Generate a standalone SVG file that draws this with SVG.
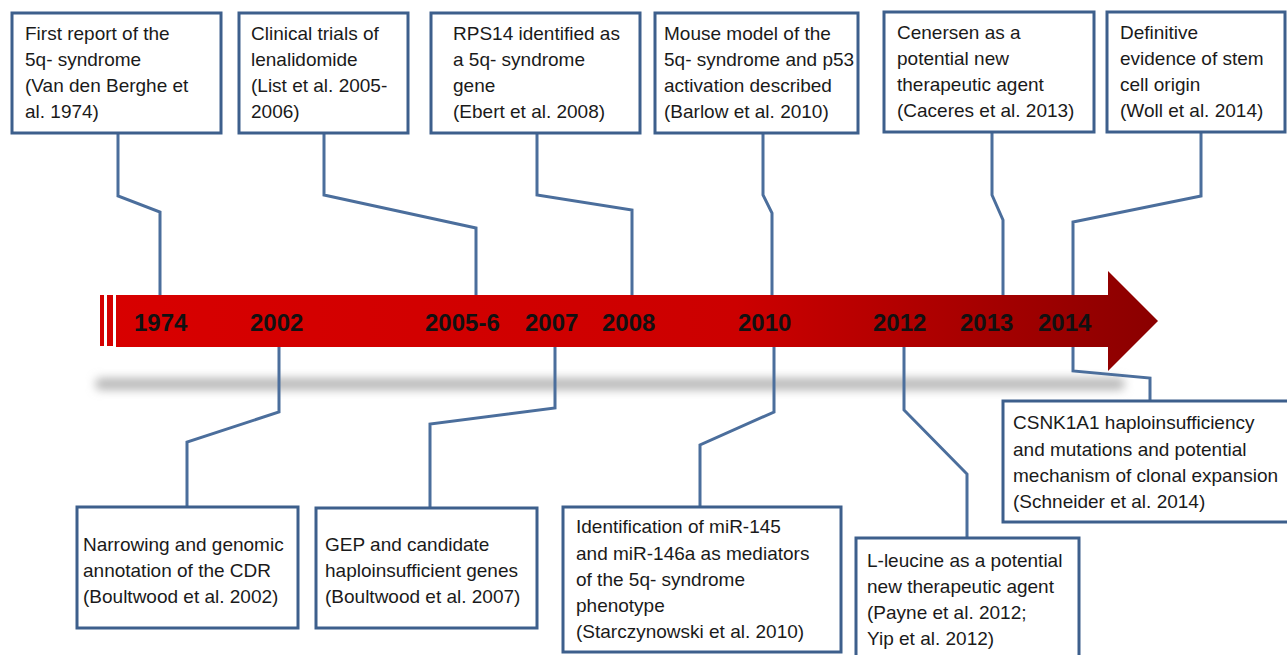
<svg xmlns="http://www.w3.org/2000/svg" width="1287" height="655" viewBox="0 0 1287 655">
<defs>
<linearGradient id="arrowGrad" x1="100" y1="0" x2="1160" y2="0" gradientUnits="userSpaceOnUse">
<stop offset="0" stop-color="#d80000"/>
<stop offset="0.6" stop-color="#cc0000"/>
<stop offset="1" stop-color="#8a0000"/>
</linearGradient>
<filter id="blur" x="-0.1" y="-2" width="1.2" height="5">
<feGaussianBlur stdDeviation="5"/>
</filter>
</defs>
<style>
.box{fill:#ffffff;stroke:#3d5f8c;stroke-width:3}
.txt{font-family:"Liberation Sans",Arial,sans-serif;font-size:19px;fill:#1a1a1a}
.yr{font-family:"Liberation Sans",Arial,sans-serif;font-size:24px;font-weight:bold;fill:#111111}
.con{fill:none;stroke:#4b6e9c;stroke-width:3;stroke-linejoin:miter}
</style>
<rect width="1287" height="655" fill="#ffffff"/>
<g id="shadow">
<rect x="95" y="378" width="1030" height="12" rx="6" fill="#b8b8b8" filter="url(#blur)"/>
</g>
<g id="connectors">
<polyline class="con" points="118,133 118,196 160,212 160,296"/>
<polyline class="con" points="324,133 324,195 476,228 476,296"/>
<polyline class="con" points="537,133 537,195 632,210 632,296"/>
<polyline class="con" points="763,133 763,195 772,213 772,296"/>
<polyline class="con" points="992,132 992,195 1003,220 1003,296"/>
<polyline class="con" points="1201,132 1201,196 1073,222 1073,296"/>
<polyline class="con" points="279,346 279,412 187,442 187,507"/>
<polyline class="con" points="555,346 555,408 430,424 430,508"/>
<polyline class="con" points="774,346 774,412 700,445 700,507"/>
<polyline class="con" points="904,346 904,410 967,474 967,538"/>
<polyline class="con" points="1073,346 1073,371 1150,378 1150,401"/>
</g>
<g id="timeline">
<rect x="100" y="295" width="4" height="51" fill="#d40000"/>
<rect x="107" y="295" width="6" height="51" fill="#d40000"/>
<polygon points="116,295 1108,295 1108,271 1158,321 1108,371 1108,347 116,347" fill="url(#arrowGrad)"/>
<text class="yr" x="134" y="331">1974</text>
<text class="yr" x="250" y="331">2002</text>
<text class="yr" x="425" y="331">2005-6</text>
<text class="yr" x="525" y="331">2007</text>
<text class="yr" x="602" y="331">2008</text>
<text class="yr" x="738" y="331">2010</text>
<text class="yr" x="873" y="331">2012</text>
<text class="yr" x="960" y="331">2013</text>
<text class="yr" x="1038" y="331">2014</text>
</g>
<g id="n1974">
<rect class="box" x="12" y="13" width="209" height="120"/>
<text class="txt" x="25" y="40">First report of the</text>
<text class="txt" x="25" y="66">5q- syndrome</text>
<text class="txt" x="25" y="92">(Van den Berghe et</text>
<text class="txt" x="25" y="118">al. 1974)</text>
</g>
<g id="n2005">
<rect class="box" x="239" y="13" width="169" height="120"/>
<text class="txt" x="251" y="40">Clinical trials of</text>
<text class="txt" x="251" y="66">lenalidomide</text>
<text class="txt" x="251" y="92">(List et al. 2005-</text>
<text class="txt" x="251" y="118">2006)</text>
</g>
<g id="n2008">
<rect class="box" x="431" y="13" width="209" height="120"/>
<text class="txt" x="453" y="40">RPS14 identified as</text>
<text class="txt" x="453" y="66">a 5q- syndrome</text>
<text class="txt" x="453" y="92">gene</text>
<text class="txt" x="453" y="118">(Ebert et al. 2008)</text>
</g>
<g id="n2010a">
<rect class="box" x="655" y="13" width="203" height="120"/>
<text class="txt" x="664" y="40">Mouse model of the</text>
<text class="txt" x="664" y="66">5q- syndrome and p53</text>
<text class="txt" x="664" y="92">activation described</text>
<text class="txt" x="664" y="118">(Barlow et al. 2010)</text>
</g>
<g id="n2013">
<rect class="box" x="884" y="12" width="210" height="120"/>
<text class="txt" x="897" y="39">Cenersen as a</text>
<text class="txt" x="897" y="65">potential new</text>
<text class="txt" x="897" y="91">therapeutic agent</text>
<text class="txt" x="897" y="117">(Caceres et al. 2013)</text>
</g>
<g id="n2014a">
<rect class="box" x="1107" y="12" width="178" height="120"/>
<text class="txt" x="1120" y="39">Definitive</text>
<text class="txt" x="1120" y="65">evidence of stem</text>
<text class="txt" x="1120" y="91">cell origin</text>
<text class="txt" x="1120" y="117">(Woll et al. 2014)</text>
</g>
<g id="n2002">
<rect class="box" x="77" y="507" width="221" height="121"/>
<text class="txt" x="83" y="551">Narrowing and genomic</text>
<text class="txt" x="83" y="577">annotation of the CDR</text>
<text class="txt" x="83" y="603">(Boultwood et al. 2002)</text>
</g>
<g id="n2007">
<rect class="box" x="316" y="508" width="221" height="120"/>
<text class="txt" x="325" y="551">GEP and candidate</text>
<text class="txt" x="325" y="577">haploinsufficient genes</text>
<text class="txt" x="325" y="603">(Boultwood et al. 2007)</text>
</g>
<g id="n2010b">
<rect class="box" x="563" y="507" width="278" height="145"/>
<text class="txt" x="576" y="533">Identification of miR-145</text>
<text class="txt" x="576" y="560">and miR-146a as mediators</text>
<text class="txt" x="576" y="586">of the 5q- syndrome</text>
<text class="txt" x="576" y="612">phenotype</text>
<text class="txt" x="576" y="638">(Starczynowski et al. 2010)</text>
</g>
<g id="n2012">
<rect class="box" x="856" y="538" width="223" height="130"/>
<text class="txt" x="867" y="567">L-leucine as a potential</text>
<text class="txt" x="867" y="593">new therapeutic agent</text>
<text class="txt" x="867" y="619">(Payne et al. 2012;</text>
<text class="txt" x="867" y="645">Yip et al. 2012)</text>
</g>
<g id="n2014b">
<rect class="box" x="1003" y="401" width="290" height="121"/>
<text class="txt" x="1013" y="429">CSNK1A1 haploinsufficiency</text>
<text class="txt" x="1013" y="456">and mutations and potential</text>
<text class="txt" x="1013" y="482">mechanism of clonal expansion</text>
<text class="txt" x="1013" y="508">(Schneider et al. 2014)</text>
</g>
</svg>
